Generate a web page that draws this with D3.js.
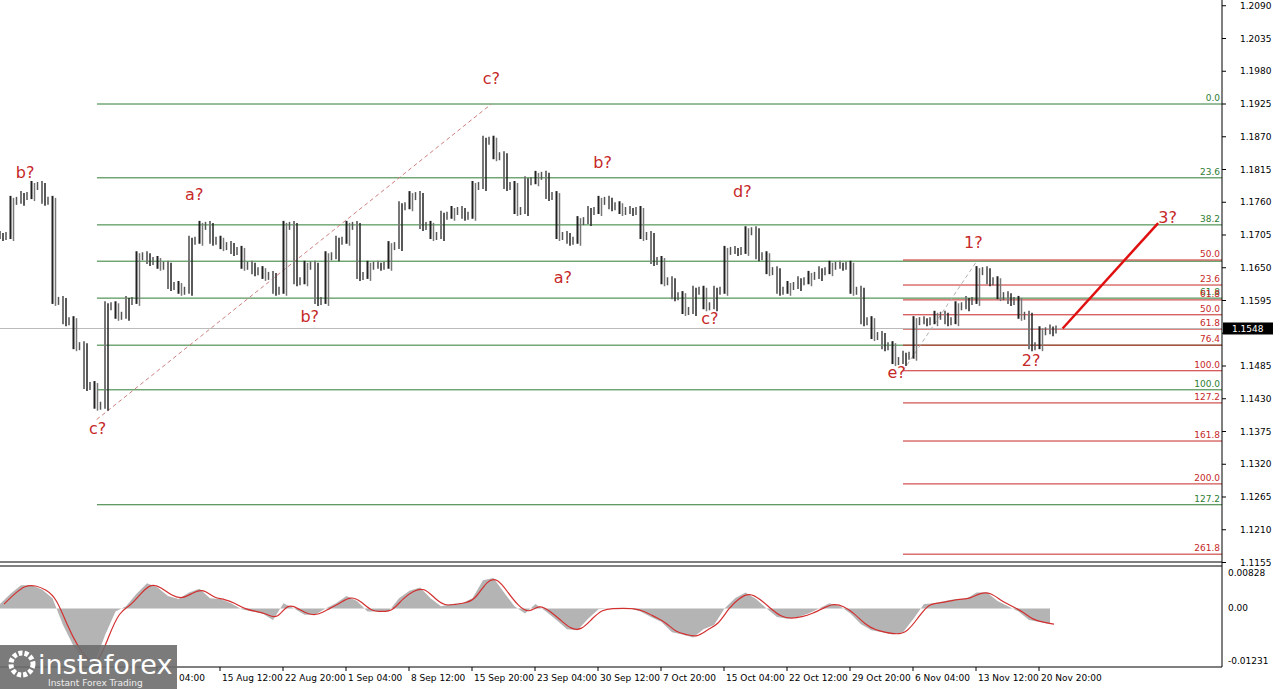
<!DOCTYPE html>
<html><head><meta charset="utf-8">
<script src="https://cdn.jsdelivr.net/npm/d3@7"></script>
<style>body{margin:0;background:#fff}svg{display:block;font-family:Tahoma,"DejaVu Sans",sans-serif}</style>
</head><body><svg id="chart" width="1280" height="689"></svg>
<script>
// closes, one per bar slot
const closes = [1.1705,1.1764,1.1772,1.1789,1.1764,1.1596,1.1562,1.1520,1.1453,1.1420,
  1.1587,1.1571,1.1596,1.1671,1.1663,1.1655,1.1621,1.1613,1.1697,1.1722,
  1.1697,1.1688,1.1680,1.1655,1.1646,1.1638,1.1613,1.1722,1.1629,1.1655,
  1.1596,1.1671,1.1697,1.1722,1.1638,1.1655,1.1655,1.1688,1.1755,1.1772,
  1.1722,1.1705,1.1739,1.1747,1.1739,1.1789,1.1865,1.1839,1.1789,1.1747,
  1.1797,1.1806,1.1772,1.1705,1.1697,1.1730,1.1747,1.1764,1.1755,1.1747,
  1.1747,1.1705,1.1663,1.1629,1.1604,1.1579,1.1613,1.1587,1.1613,1.1680,
  1.1680,1.1713,1.1671,1.1646,1.1613,1.1621,1.1629,1.1638,1.1646,1.1655,
  1.1655,1.1613,1.1562,1.1537,1.1520,1.1495,1.1504,1.1562,1.1562,1.1571,
  1.1562,1.1587,1.1596,1.1646,1.1629,1.1604,1.1596,1.1571,1.1520,1.1545,1.1548];
// oscillator, in units of 0.001
const osc = [1.0,3.4,5.4,5.4,4.4,2.4,-3.9,-8.8,-12.2,-12.9,-6.3,-0.7,0.5,3.4,5.9,4.9,2.9,2.2,3.7,4.6,
  2.4,2.2,1.2,-0.2,-0.7,-1.2,-2.7,1.2,0,-1.5,-1.5,0,1.2,2.9,1.7,-0.7,-0.7,-0.7,2.4,4.1,
  4.9,2.4,0.5,1.0,1.2,2.4,6.6,7.1,3.7,0.5,-1.2,1.0,-0.7,-2.7,-4.9,-5.1,-2.4,-0.2,0,0,
  0,-0.7,-2.0,-3.2,-5.6,-6.1,-6.8,-4.9,-3.9,0,2.4,3.7,2.2,0,-2.0,-2.4,-2.0,-1.2,0,1.2,
  0.5,-1.2,-3.7,-5.1,-5.6,-6.1,-5.6,-2.4,1.0,1.2,1.7,2.2,2.2,3.7,3.7,1.7,0.5,-0.7,-2.7,-3.2,-3.7];
const priceTicks = [1.2090,1.2035,1.1980,1.1925,1.1870,1.1815,1.1760,1.1705,1.1650,1.1595,1.1540,1.1485,1.1430,1.1375,1.1320,1.1265,1.1210,1.1155];
const timeLabels = ["8 Aug 04:00","15 Aug 12:00","22 Aug 20:00","1 Sep 04:00","8 Sep 12:00","15 Sep 20:00","23 Sep 04:00","30 Sep 12:00","7 Oct 20:00","15 Oct 04:00","22 Oct 12:00","29 Oct 20:00","6 Nov 04:00","13 Nov 12:00","20 Nov 20:00"];
const fiboBig = [[0,1.1925,"0.0"],[23.6,1.1801,"23.6"],[38.2,1.1722,"38.2"],[50,1.1661,""],[61.8,1.1599,""],[76.4,1.1520,""],[100,1.1445,"100.0"],[127.2,1.1252,"127.2"]];
const fiboSmall = [[1.1663,"50.0"],[1.1621,"23.6"],[1.1596,"61.8"],[1.1571,"50.0"],[1.1547,"61.8"],[1.1520,"76.4"],[1.1477,"100.0"],[1.1423,"127.2"],[1.1359,"161.8"],[1.1287,"200.0"],[1.1169,"261.8"]];
const waves = [["b?",2.4,1.1800],["a?",18.5,1.1763],["c?",9.3,1.1370],["b?",29.5,1.1559],["c?",46.8,1.1958],["a?",53.6,1.1624],["b?",57.4,1.1817],["d?",70.7,1.1768],["c?",67.6,1.1555],["e?",85.4,1.1465],["1?",92.7,1.1684],["2?",98.2,1.1485],["3?",111.2,1.1725]];
const lastPrice = 1.1548;

const svg = d3.select("#chart");
const W = 1222, panelBottom = 562;
const x = d3.scaleLinear().domain([0, 1]).range([0, 10.5]);
const y = d3.scaleLinear().domain([1.1925, 1.1485]).range([104, 366]);
const yo = d3.scaleLinear().domain([-12.31, 8.28]).range([661, 573]);
const wx = d3.scaleLinear().domain([0, 1]).range([157, 220]);

// green fibo grid
fiboBig.forEach(f => {
  svg.append("line").attr("x1", 97).attr("x2", W).attr("y1", y(f[1])).attr("y2", y(f[1]))
    .attr("stroke", "#2e7d32").attr("stroke-width", 1);
  if (f[2]) svg.append("text").attr("x", W - 2).attr("y", y(f[1]) - 3).attr("text-anchor", "end")
    .attr("font-size", 9).attr("fill", "#2e7d32").text(f[2]);
});
svg.append("text").attr("x", W - 2).attr("y", y(1.1599) - 3).attr("text-anchor", "end").attr("font-size", 9).attr("fill", "#2e7d32").text("61.8");
fiboSmall.forEach(f => {
  svg.append("line").attr("x1", x(86)).attr("x2", W).attr("y1", y(f[0])).attr("y2", y(f[0]))
    .attr("stroke", "#c62828").attr("stroke-width", 1);
  svg.append("text").attr("x", W - 2).attr("y", y(f[0]) - 3).attr("text-anchor", "end")
    .attr("font-size", 9).attr("fill", "#c62828").text(f[1]);
});
// current price line
svg.append("line").attr("x1", 0).attr("x2", W).attr("y1", y(lastPrice)).attr("y2", y(lastPrice)).attr("stroke", "#bbb");

// dashed wave lines
svg.append("line").attr("x1", x(9.2)).attr("y1", y(1.1395)).attr("x2", x(46.8)).attr("y2", y(1.1925))
  .attr("stroke", "#d08080").attr("stroke-dasharray", "4,3");
svg.append("line").attr("x1", x(86)).attr("y1", y(1.1477)).attr("x2", x(93.1)).attr("y2", y(1.1663))
  .attr("stroke", "#b0b0b0").attr("stroke-dasharray", "4,3");
svg.append("line").attr("x1", x(101.2)).attr("y1", y(1.1548)).attr("x2", x(110.3)).attr("y2", y(1.1725))
  .attr("stroke", "#e01010").attr("stroke-width", 2.5);

// bars
closes.forEach((c, i) => {
  const o = i ? closes[i - 1] : c;
  const hi = Math.max(o, c), lo = Math.min(o, c);
  svg.append("line").attr("x1", x(i)).attr("x2", x(i)).attr("y1", y(hi) - 4).attr("y2", y(lo) + 4)
    .attr("stroke", i % 2 ? "#222" : "#777").attr("stroke-width", 2);
  svg.append("line").attr("x1", x(i) + 3).attr("x2", x(i) + 3).attr("y1", y(hi) - 2).attr("y2", y(lo) + 6)
    .attr("stroke", i % 2 ? "#777" : "#222").attr("stroke-width", 1.5);
  svg.append("line").attr("x1", x(i) + 6).attr("x2", x(i) + 6).attr("y1", y(c) - 3).attr("y2", y(c) + 5)
    .attr("stroke", "#555").attr("stroke-width", 1.5);
});

// wave labels
waves.forEach(w => svg.append("text").attr("x", x(w[1])).attr("y", y(w[2])).attr("text-anchor", "middle")
  .attr("font-size", 16).attr("fill", "#c62828").text(w[0]));

// price axis
svg.append("line").attr("x1", W).attr("x2", W).attr("y1", 0).attr("y2", 667).attr("stroke", "#000");
priceTicks.forEach(p => {
  svg.append("line").attr("x1", W).attr("x2", W + 4).attr("y1", y(p)).attr("y2", y(p)).attr("stroke", "#000");
  if (Math.abs(y(p) - y(lastPrice)) > 10)
    svg.append("text").attr("x", W + 18).attr("y", y(p) + 3).attr("font-size", 9).attr("fill", "#000").text(p.toFixed(4));
});
svg.append("rect").attr("x", W + 1).attr("y", y(lastPrice) - 6).attr("width", 50).attr("height", 12).attr("fill", "#000");
svg.append("text").attr("x", W + 10).attr("y", y(lastPrice) + 4).attr("font-size", 9).attr("fill", "#fff").text(lastPrice.toFixed(4));

// panel separator
svg.append("line").attr("x1", 0).attr("x2", W).attr("y1", panelBottom).attr("y2", panelBottom).attr("stroke", "#000");
svg.append("line").attr("x1", 0).attr("x2", W).attr("y1", panelBottom + 4).attr("y2", panelBottom + 4).attr("stroke", "#000");
svg.append("line").attr("x1", 0).attr("x2", W).attr("y1", 667).attr("y2", 667).attr("stroke", "#000");

// oscillator
svg.append("path").datum(osc).attr("fill", "#b4b4b4")
  .attr("d", d3.area().x((d, i) => x(i)).y0(yo(0)).y1(d => yo(d)));
svg.append("path").datum(osc).attr("fill", "none").attr("stroke", "#d32f2f").attr("stroke-width", 1.2)
  .attr("d", d3.line().x((d, i) => x(i) + 4).y(d => yo(d)).curve(d3.curveBasis));
[[8.28, "0.00828"], [0, "0.00"], [-12.31, "-0.01231"]].forEach(t =>
  svg.append("text").attr("x", W + 6).attr("y", yo(t[0]) + 3).attr("font-size", 9).text(t[1]));

// time axis (first label sits under the logo)
timeLabels.forEach((t, i) => {
  svg.append("line").attr("x1", wx(i)).attr("x2", wx(i)).attr("y1", 667).attr("y2", 671).attr("stroke", "#000");
  svg.append("text").attr("x", i ? wx(i) + 2 : 179).attr("y", 681).attr("font-size", 9).text(i ? t : "04:00");
});

// logo
svg.append("rect").attr("x", 0).attr("y", 645).attr("width", 177).attr("height", 44).attr("fill", "#6d6d6d").attr("opacity", 0.9);
svg.append("circle").attr("cx", 22).attr("cy", 664).attr("r", 11).attr("fill", "none").attr("stroke", "#fff").attr("stroke-width", 5).attr("stroke-dasharray", "4,2");
svg.append("text").attr("x", 38).attr("y", 674).attr("font-size", 27).attr("fill", "#fff").text("instaforex");
svg.append("text").attr("x", 48).attr("y", 686).attr("font-size", 9).attr("fill", "#eee").text("Instant Forex Trading");
</script></body></html>
